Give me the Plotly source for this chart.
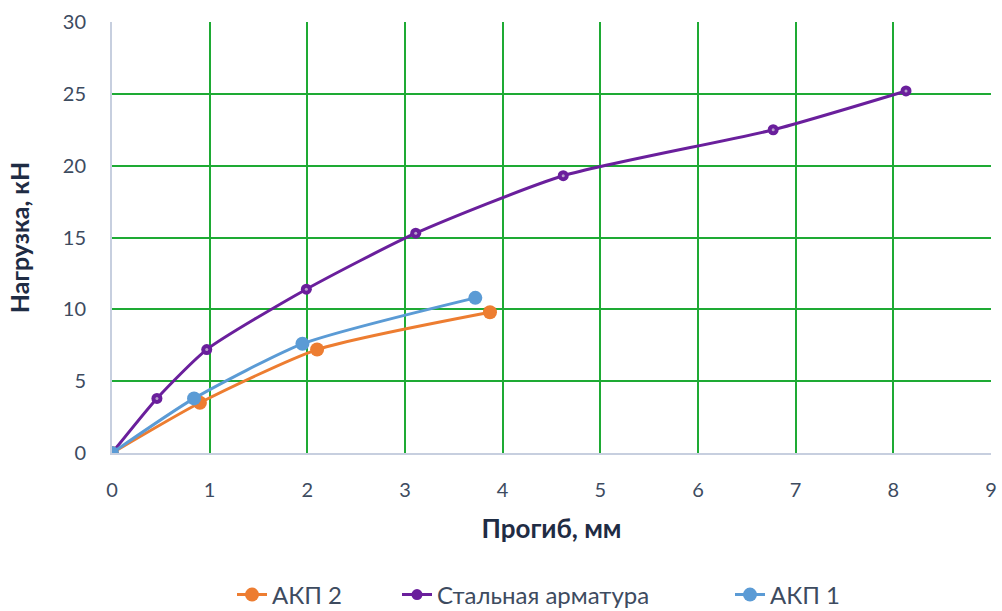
import plotly.graph_objects as go

# Deflection (mm) and load (kN) for each specimen
akp2_x = [0, 0.90, 2.10, 3.87]
akp2_y = [0, 3.5, 7.2, 9.8]

steel_x = [0, 0.46, 0.97, 1.99, 3.11, 4.62, 6.77, 8.13]
steel_y = [0, 3.8, 7.2, 11.4, 15.3, 19.3, 22.5, 25.2]

akp1_x = [0, 0.84, 1.95, 3.72]
akp1_y = [0, 3.8, 7.6, 10.8]

names = ["АКП 2", "Стальная арматура", "АКП 1"]
x_ticks = list(range(0, 10))
y_ticks = list(range(0, 31, 5))

ORANGE = "#ed7d31"
PURPLE = "#6a1f9c"
BLUE = "#5b9bd5"
GRID = "#1eaa34"
AXIS = "#c7cfdf"
TICK = "#3d4b5f"
TITLE = "#1f2c44"
FONT = "Lato, 'Open Sans', sans-serif"

fig = go.Figure()

fig.add_trace(go.Scatter(
    x=akp2_x, y=akp2_y, name=names[0], mode="lines+markers", legend="legend",
    line=dict(color=ORANGE, width=3, shape="spline", smoothing=0.6),
    marker=dict(color=ORANGE, size=14),
))
fig.add_trace(go.Scatter(
    x=steel_x, y=steel_y, name=names[1], mode="lines+markers", legend="legend2",
    line=dict(color=PURPLE, width=3, shape="spline", smoothing=0.6),
    marker=dict(color=PURPLE, size=11),
))
# light centre dots on the steel markers
fig.add_trace(go.Scatter(
    x=steel_x, y=steel_y, mode="markers", showlegend=False, hoverinfo="skip",
    marker=dict(color="#b8a2cc", size=3),
))
fig.add_trace(go.Scatter(
    x=akp1_x, y=akp1_y, name=names[2], mode="lines+markers", legend="legend3",
    line=dict(color=BLUE, width=3, shape="spline", smoothing=0.6),
    marker=dict(color=BLUE, size=14),
))

legend_common = dict(
    orientation="h", xref="container", yref="container",
    xanchor="left", y=16 / 611, yanchor="middle",
    font=dict(size=24, color=TICK), bgcolor="rgba(0,0,0,0)",
)

fig.update_layout(
    width=1002, height=611,
    margin=dict(l=112, r=11, t=22, b=158),
    paper_bgcolor="white", plot_bgcolor="white",
    font=dict(family=FONT, color=TICK, size=20),
    legend=dict(legend_common, x=232 / 1002),
    legend2=dict(legend_common, x=397 / 1002),
    legend3=dict(legend_common, x=730 / 1002),
    xaxis=dict(
        range=[0, 9], tickvals=x_ticks, showgrid=True, gridcolor=GRID, gridwidth=2,
        showline=True, linecolor=AXIS, linewidth=2, zeroline=False,
        ticks="", ticklabelstandoff=18, automargin=False,
        title=dict(text="<b>Прогиб, мм</b>", font=dict(size=26, color=TITLE), standoff=20),
    ),
    yaxis=dict(
        range=[0, 30], tickvals=y_ticks, showgrid=True, gridcolor=GRID, gridwidth=2,
        showline=True, linecolor=AXIS, linewidth=2, zeroline=False,
        ticks="", ticklabelstandoff=20, automargin=False,
        title=dict(text="<b>Нагрузка, кН</b>", font=dict(size=25, color=TITLE), standoff=26),
    ),
)

fig.write_html("out.html")
